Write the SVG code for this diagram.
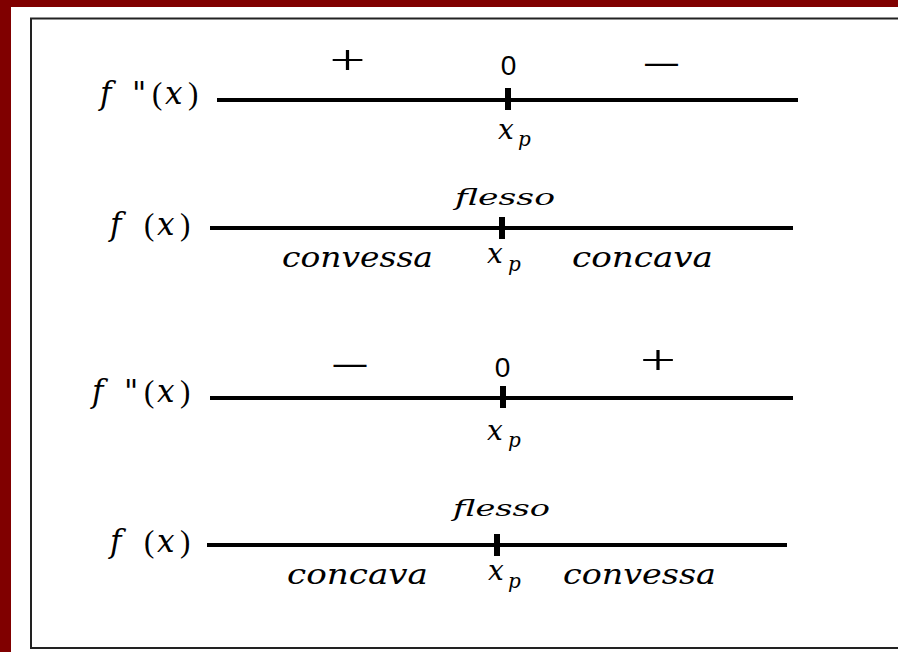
<svg xmlns="http://www.w3.org/2000/svg" width="898" height="652" viewBox="0 0 898 652">
<style>
.m{font-family:"DejaVu Serif",serif;font-style:italic;fill:#000}
.u{font-style:normal;font-family:"Liberation Serif","DejaVu Serif",serif}
.lab{font-size:31px}
.word{font-size:27px}
.fl{font-size:23px}
.xv{font-size:28px}
.sub{font-size:20px}
.sign{font-family:"Liberation Serif",serif;font-size:42px;fill:#000}
.zero{font-family:"Liberation Sans",Arial,sans-serif;font-size:28px;fill:#000}
.dash{font-family:"Liberation Sans",Arial,sans-serif;font-size:33px;fill:#000}
.axis{stroke:#000;stroke-width:4}
.tick{stroke:#000;stroke-width:6}
</style>
<rect x="0" y="0" width="898" height="652" fill="#800000"/>
<rect x="11" y="7" width="887" height="645" fill="#fff"/>
<rect x="31" y="18.5" width="880" height="629.5" fill="none" stroke="#222" stroke-width="2"/>
<g id="connectors">
<line class="axis" x1="217" y1="100" x2="798" y2="100"/>
<line class="tick" x1="508" y1="88" x2="508" y2="110"/>
<line class="axis" x1="210" y1="228" x2="793" y2="228"/>
<line class="tick" x1="502" y1="217" x2="502" y2="239"/>
<line class="axis" x1="210" y1="398" x2="793" y2="398"/>
<line class="tick" x1="503" y1="386" x2="503" y2="408"/>
<line class="axis" x1="207" y1="545" x2="787" y2="545"/>
<line class="tick" x1="497" y1="534" x2="497" y2="556"/>
</g>
<g id="row1">
<text class="m lab" y="104"><tspan x="100">f</tspan><tspan x="132">"</tspan><tspan class="u" x="152">(</tspan><tspan x="165">x</tspan><tspan class="u" x="188">)</tspan></text>
<text class="sign" x="347.5" y="74" text-anchor="middle" textLength="36" lengthAdjust="spacingAndGlyphs">+</text>
<text class="zero" x="508.5" y="75" text-anchor="middle">0</text>
<text class="dash" x="661.5" y="72.6" text-anchor="middle">—</text>
<text class="m xv" x="498" y="139">x</text>
<text class="m sub" x="518" y="146">p</text>
</g>
<g id="row2">
<text class="m lab" y="235"><tspan x="110">f</tspan><tspan class="u" x="144">(</tspan><tspan x="157">x</tspan><tspan class="u" x="180">)</tspan></text>
<text class="m fl" x="455" y="205" textLength="100" lengthAdjust="spacingAndGlyphs">flesso</text>
<text class="m word" x="282" y="267" textLength="151" lengthAdjust="spacingAndGlyphs">convessa</text>
<text class="m xv" x="487" y="263">x</text>
<text class="m sub" x="508" y="271">p</text>
<text class="m word" x="572" y="267" textLength="141" lengthAdjust="spacingAndGlyphs">concava</text>
</g>
<g id="row3">
<text class="m lab" y="402"><tspan x="92">f</tspan><tspan x="124">"</tspan><tspan x="144" class="u">(</tspan><tspan x="157">x</tspan><tspan class="u" x="180">)</tspan></text>
<text class="dash" x="350" y="373.6" text-anchor="middle">—</text>
<text class="zero" x="502.5" y="377" text-anchor="middle">0</text>
<text class="sign" x="658" y="374" text-anchor="middle" textLength="36" lengthAdjust="spacingAndGlyphs">+</text>
<text class="m xv" x="487" y="440">x</text>
<text class="m sub" x="508" y="447">p</text>
</g>
<g id="row4">
<text class="m lab" y="552"><tspan x="110">f</tspan><tspan class="u" x="144">(</tspan><tspan x="157">x</tspan><tspan class="u" x="180">)</tspan></text>
<text class="m fl" x="453" y="516" textLength="97" lengthAdjust="spacingAndGlyphs">flesso</text>
<text class="m word" x="287" y="584" textLength="141" lengthAdjust="spacingAndGlyphs">concava</text>
<text class="m xv" x="488" y="580">x</text>
<text class="m sub" x="508" y="588">p</text>
<text class="m word" x="563" y="584" textLength="153" lengthAdjust="spacingAndGlyphs">convessa</text>
</g>
</svg>
